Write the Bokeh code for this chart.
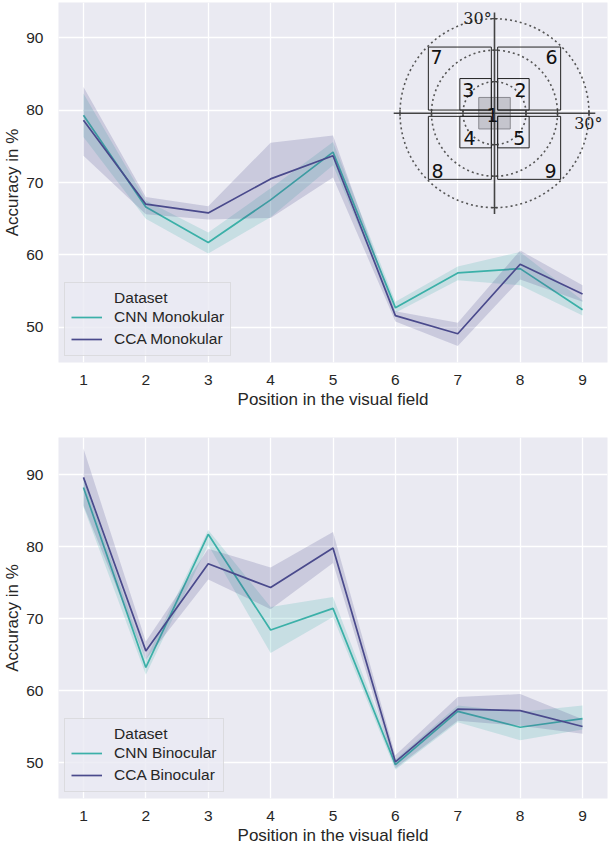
from bokeh.plotting import figure
from bokeh.layouts import column
from bokeh.models import Range1d, FixedTicker
from bokeh.core.properties import value
from bokeh.embed import file_html
from bokeh.resources import INLINE

# ---------------- data ----------------
positions = [1, 2, 3, 4, 5, 6, 7, 8, 9]

cnn_mono = [79.3, 66.6, 61.7, 67.6, 74.2, 52.7, 57.5, 58.1, 52.4]
cnn_mono_lo = [76.3, 65.0, 60.2, 65.2, 72.4, 52.0, 56.5, 55.8, 51.6]
cnn_mono_hi = [82.3, 67.5, 63.1, 69.2, 75.6, 53.5, 58.4, 60.4, 53.7]
cca_mono = [78.6, 67.0, 65.8, 70.5, 73.7, 51.6, 49.1, 58.7, 54.6]
cca_mono_lo = [73.7, 65.6, 64.9, 65.1, 70.7, 50.8, 47.4, 56.6, 53.5]
cca_mono_hi = [83.2, 68.0, 66.7, 75.5, 76.5, 52.2, 50.6, 60.6, 55.8]

cnn_bino = [88.2, 63.2, 81.7, 68.4, 71.4, 49.7, 57.1, 54.9, 56.1]
cnn_bino_lo = [85.5, 62.2, 80.2, 65.2, 70.2, 49.0, 55.6, 53.1, 54.6]
cnn_bino_hi = [89.4, 64.3, 82.3, 71.6, 73.0, 50.4, 57.9, 57.0, 57.9]
cca_bino = [89.6, 65.5, 77.6, 74.3, 79.8, 50.1, 57.4, 57.2, 55.0]
cca_bino_lo = [85.7, 64.3, 75.4, 71.3, 77.7, 49.2, 55.8, 55.1, 54.0]
cca_bino_hi = [93.6, 66.8, 79.7, 77.1, 82.0, 51.0, 59.1, 59.5, 56.0]

y_ticks = [50, 60, 70, 80, 90]

# inset (visual field diagram), in degrees
inset_circle_radii = [10, 20, 30]
inset_box_left = [-5, 1, -11, -11, 1, 1, -21, -21, 1]
inset_box_right = [5, 11, -1, -1, 11, 21, -1, -1, 21]
inset_box_bottom = [-5, 1, 1, -11, -11, 1, 1, -21, -21]
inset_box_top = [5, 11, 11, -1, -1, 21, 21, -1, -1]
inset_labels = ["1", "2", "3", "4", "5", "6", "7", "8", "9"]
inset_label_x = [-0.6, 8.3, -8.3, -7.9, 7.9, 18.1, -18.4, -18.1, 17.8]
inset_label_y = [-0.7, 7.5, 7.5, -8.0, -8.0, 17.7, 17.7, -18.5, -18.5]
inset_ticks = [-30, -20, -10, 10, 20, 30]
inset_axis_extent = 32

# ---------------- style ----------------
TEAL = "#3BB0A8"
NAVY = "#4A4A8C"
BG = "#EAEAF2"
TXT = "#262626"
SANS = "Liberation Sans"

FRAME_W = 549


def make_fig(frame_h, y_lo, y_hi, top_border, bottom_border):
    p = figure(frame_width=FRAME_W, frame_height=frame_h,
               x_range=Range1d(0.6, 9.4), y_range=Range1d(y_lo, y_hi),
               output_backend="svg", toolbar_location=None,
               min_border_left=40, min_border_right=1,
               min_border_top=top_border, min_border_bottom=bottom_border)
    p.background_fill_color = BG
    p.border_fill_color = "white"
    p.outline_line_color = None
    p.xaxis.ticker = FixedTicker(ticks=positions)
    p.yaxis.ticker = FixedTicker(ticks=y_ticks)
    for ax in (p.xaxis, p.yaxis):
        ax.axis_line_color = None
        ax.major_tick_line_color = None
        ax.minor_tick_line_color = None
        ax.major_label_text_font = SANS
        ax.major_label_text_font_size = "15.5px"
        ax.major_label_text_color = TXT
        ax.axis_label_text_font = SANS
        ax.axis_label_text_font_size = "17px"
        ax.axis_label_text_font_style = "normal"
        ax.axis_label_text_color = TXT
    p.xaxis.major_label_standoff = 6
    p.xaxis.axis_label_standoff = 2
    p.yaxis.major_label_standoff = 9
    p.yaxis.axis_label_standoff = 1
    p.xaxis.axis_label = "Position in the visual field"
    p.yaxis.axis_label = "Accuracy in %"
    p.xgrid.grid_line_color = "white"
    p.ygrid.grid_line_color = "white"
    p.xgrid.grid_line_width = 1.3
    p.ygrid.grid_line_width = 1.3
    return p


def add_series(p, y, lo, hi, color, label):
    p.varea(x=positions, y1=lo, y2=hi, fill_color=color, fill_alpha=0.2)
    p.line(x=positions, y=y, line_color=color, line_width=1.7, legend_label=label)


def style_legend(p):
    lg = p.legend[0]
    # non-breaking spaces centre the title over the entries, as in the reference
    lg.title = "\u00a0" * 10 + "Dataset"
    lg.title_text_font = SANS
    lg.title_text_font_size = "15.5px"
    lg.title_text_font_style = "normal"
    lg.title_text_color = TXT
    lg.title_standoff = 0
    lg.label_text_font = SANS
    lg.label_text_font_size = "15.5px"
    lg.label_text_color = TXT
    lg.location = "bottom_left"
    lg.margin = 6
    lg.padding = 6
    lg.spacing = 2
    lg.glyph_width = 31
    lg.glyph_height = 20
    lg.label_height = 20
    lg.label_standoff = 12
    lg.background_fill_color = BG
    lg.background_fill_alpha = 0.8
    lg.border_line_color = "#CCCCCC"
    lg.border_line_width = 1


# ---------- top figure ----------
TOP_H = 360
p1 = make_fig(TOP_H, 45.12, 94.88, 2, 56)
add_series(p1, cnn_mono, cnn_mono_lo, cnn_mono_hi, TEAL, "CNN Monokular")
add_series(p1, cca_mono, cca_mono_lo, cca_mono_hi, NAVY, "CCA Monokular")
style_legend(p1)

# inset coordinate system (equal aspect, degrees)
SCALE = 3.15           # px per degree
CX, CY = 436.0, 110.7  # inset centre, px from frame left / top
p1.extra_x_ranges = {"inset": Range1d(-CX / SCALE, (FRAME_W - CX) / SCALE)}
p1.extra_y_ranges = {"inset": Range1d(-(TOP_H - CY) / SCALE, CY / SCALE)}
kw = dict(x_range_name="inset", y_range_name="inset")

p1.circle(x=[0] * len(inset_circle_radii), y=[0] * len(inset_circle_radii),
          radius=inset_circle_radii, fill_color=None, line_color="#555555",
          line_width=1.6, line_dash="2 3", **kw)
# grey centre box
p1.quad(left=inset_box_left[:1], right=inset_box_right[:1],
        bottom=inset_box_bottom[:1], top=inset_box_top[:1],
        fill_color="#9A9AA0", fill_alpha=0.45, line_color="#8A8A90", line_width=1, **kw)
p1.quad(left=inset_box_left[1:], right=inset_box_right[1:],
        bottom=inset_box_bottom[1:], top=inset_box_top[1:],
        fill_color=None, line_color="#222222", line_width=1, **kw)
# axes cross
E = inset_axis_extent
p1.segment(x0=[-E, 0], y0=[0, -E], x1=[E, 0], y1=[0, E],
           line_color="#444444", line_width=1.6, **kw)
# small ticks
p1.segment(x0=inset_ticks, y0=[-1] * 6, x1=inset_ticks, y1=[1] * 6,
           line_color="#444444", line_width=1.3, **kw)
p1.segment(x0=[-1] * 6, y0=inset_ticks, x1=[1] * 6, y1=inset_ticks,
           line_color="#444444", line_width=1.3, **kw)
p1.text(x=inset_label_x, y=inset_label_y, text=inset_labels,
        text_font=value("DejaVu Sans"), text_font_size="19px",
        text_color="#111111", text_align="center", text_baseline="middle", **kw)
p1.text(x=[-5.4, 29.8], y=[30.1, -3.2], text=["30°", "30°"],
        text_font=value("DejaVu Serif"), text_font_size="16px",
        text_color="#222222", text_align="center", text_baseline="middle", **kw)

# ---------- bottom figure ----------
p2 = make_fig(361, 45.0, 95.14, 19, 44)
add_series(p2, cnn_bino, cnn_bino_lo, cnn_bino_hi, TEAL, "CNN Binocular")
add_series(p2, cca_bino, cca_bino_lo, cca_bino_hi, NAVY, "CCA Binocular")
style_legend(p2)

layout = column(p1, p2, spacing=0)
open("out.html", "w").write(file_html(layout, INLINE))
